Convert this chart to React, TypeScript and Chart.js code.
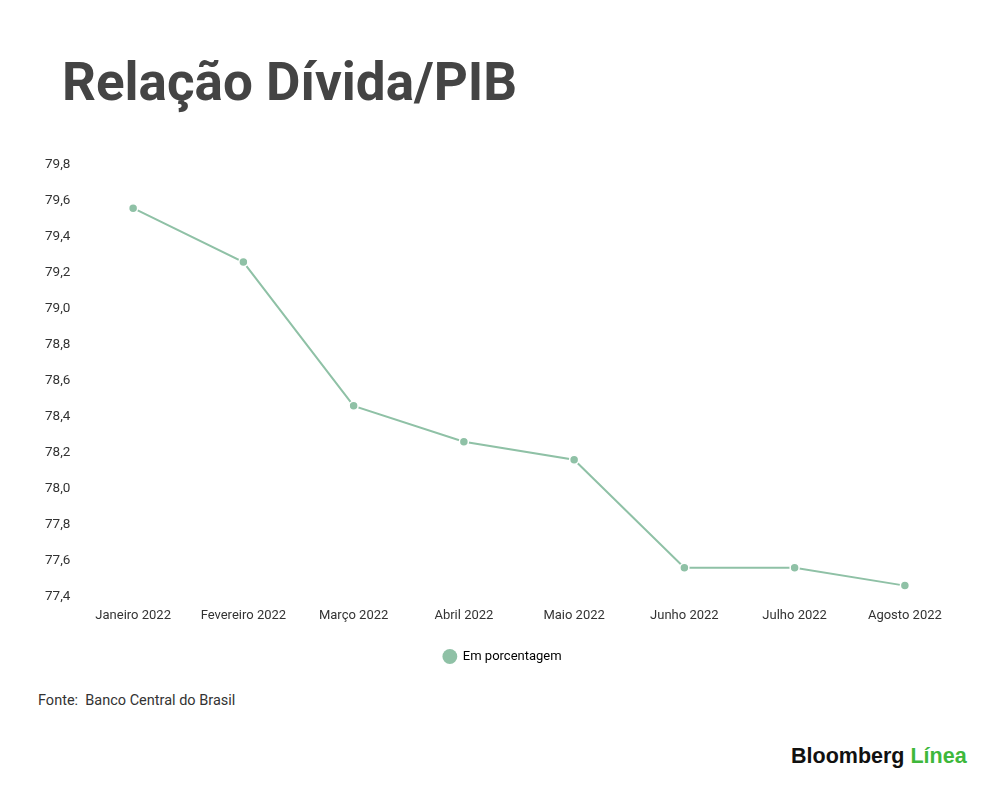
import { useEffect, useRef } from "react"
import { Chart, registerables } from "chart.js"

Chart.register(...registerables)

const months = [
  "Janeiro 2022",
  "Fevereiro 2022",
  "Março 2022",
  "Abril 2022",
  "Maio 2022",
  "Junho 2022",
  "Julho 2022",
  "Agosto 2022",
]
const ratio = [79.56, 79.26, 78.46, 78.26, 78.16, 77.56, 77.56, 77.46]
const seriesName = "Em porcentagem"
const yMin = 77.4
const yMax = 79.8
const yStep = 0.2

const green = "#8fc1a6"
const textColor = "#333333"

function RatioChart() {
  const chartRef = useRef<HTMLCanvasElement>(null)
  const chartInstance = useRef<Chart | null>(null)

  useEffect(() => {
    if (!chartRef.current) return
    const ctx = chartRef.current.getContext("2d")
    if (!ctx) return

    chartInstance.current = new Chart(ctx, {
      type: "line",
      data: {
        labels: months,
        datasets: [
          {
            label: seriesName,
            data: ratio,
            borderColor: green,
            backgroundColor: green,
            borderWidth: 2,
            tension: 0,
            pointRadius: 4.5,
            pointBackgroundColor: green,
            pointBorderColor: "#ffffff",
            pointBorderWidth: 1.5,
          },
        ],
      },
      options: {
        animation: false,
        responsive: false,
        layout: { padding: { top: 25, left: 45, right: 40, bottom: 12 } },
        font: { family: "Roboto", size: 13 },
        plugins: {
          tooltip: { enabled: false },
          legend: {
            position: "bottom",
            labels: {
              color: textColor,
              font: { family: "Roboto", size: 13 },
              usePointStyle: true,
              boxWidth: 13,
              boxHeight: 10.5,
              padding: 14,
              generateLabels: () => [
                {
                  text: seriesName,
                  fillStyle: green,
                  strokeStyle: green,
                  lineWidth: 0,
                  pointStyle: "circle",
                  datasetIndex: 0,
                  hidden: false,
                },
              ],
            },
          },
        },
        scales: {
          x: {
            offset: true,
            border: { display: false },
            grid: { display: false, drawTicks: false },
            ticks: {
              color: textColor,
              font: { family: "Roboto", size: 13 },
              padding: 12,
              maxRotation: 0,
              autoSkip: false,
            },
          },
          y: {
            min: yMin,
            max: yMax,
            border: { display: false },
            grid: { display: false, drawTicks: false },
            afterFit: (scale) => {
              scale.width = 33
            },
            ticks: {
              stepSize: yStep,
              color: textColor,
              crossAlign: "far",
              padding: 0,
              font: { family: "Roboto", size: 13.5 },
              callback: (value) => Number(value).toFixed(1).replace(".", ","),
            },
          },
        },
      },
    })

    return () => {
      chartInstance.current?.destroy()
    }
  }, [])

  return (
    <canvas
      ref={chartRef}
      width={1000}
      height={545}
      style={{ position: "absolute", left: 0, top: 140, width: 1000, height: 545 }}
    />
  )
}

export default function App() {
  useEffect(() => {
    document.body.style.margin = "0"
  }, [])

  return (
    <div
      style={{
        position: "relative",
        width: 1000,
        height: 786,
        background: "#ffffff",
        overflow: "hidden",
        fontFamily: "Roboto, sans-serif",
      }}
    >
      <div
        style={{
          position: "absolute",
          left: 62,
          top: 50,
          fontSize: 53,
          fontWeight: 700,
          color: "#444444",
          lineHeight: "64px",
          whiteSpace: "nowrap",
        }}
      >
        Relação Dívida/PIB
      </div>
      <RatioChart />
      <div
        style={{
          position: "absolute",
          left: 38,
          top: 692,
          fontSize: 14.5,
          color: textColor,
          lineHeight: "18px",
          whiteSpace: "pre",
        }}
      >
        Fonte:  Banco Central do Brasil
      </div>
      <div
        style={{
          position: "absolute",
          left: 791,
          top: 743,
          fontFamily: "'Liberation Sans', Arial, sans-serif",
          fontSize: 21.5,
          fontWeight: 700,
          lineHeight: "26px",
          letterSpacing: 0,
          whiteSpace: "nowrap",
        }}
      >
        <span style={{ color: "#111111" }}>Bloomberg</span>{" "}
        <span style={{ color: "#3eb83b" }}>Línea</span>
      </div>
    </div>
  )
}
